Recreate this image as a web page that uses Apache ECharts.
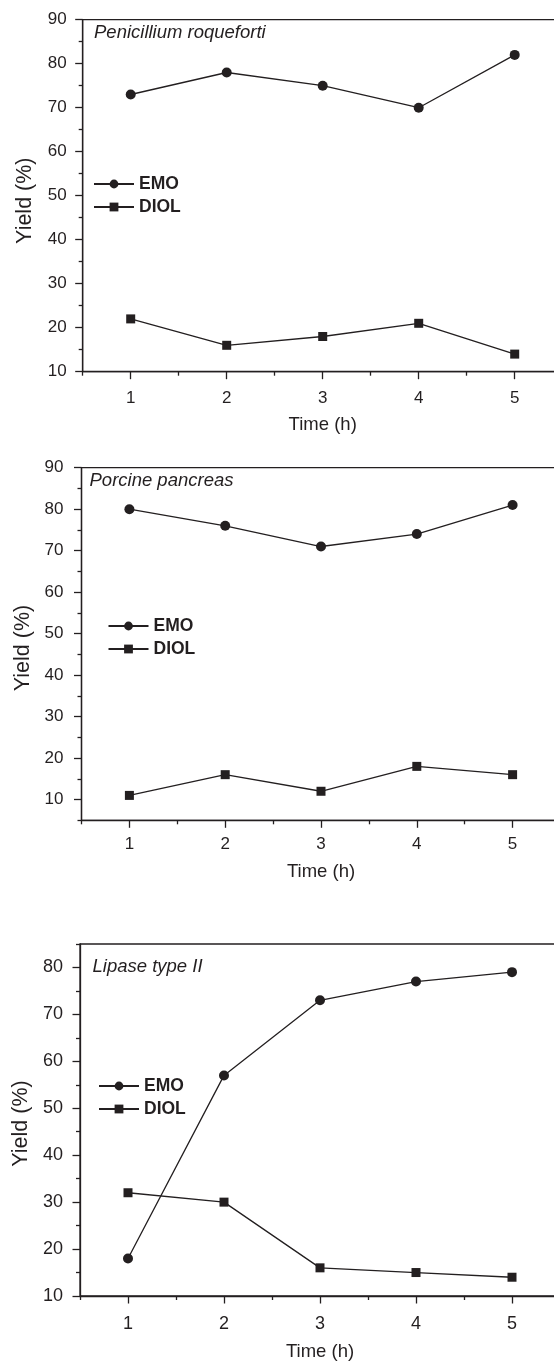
<!DOCTYPE html>
<html>
<head>
<meta charset="utf-8">
<script src="https://cdn.jsdelivr.net/npm/echarts@6/dist/echarts.min.js"></script>
<style>
html,body{margin:0;padding:0;background:#fff;overflow:hidden;width:554px;height:1362px;}
#chart{width:600px;height:1362px;}
</style>
</head>
<body>
<div id="chart"></div>
<script>
// ---- data ----
const times = [1, 2, 3, 4, 5];
const panelTitles = ['Penicillium roqueforti', 'Porcine pancreas', 'Lipase type II'];
const seriesNames = ['EMO', 'DIOL'];
const emoPenicillium = [73, 78, 75, 70, 82];
const diolPenicillium = [22, 16, 18, 21, 14];
const emoPorcine = [80, 76, 71, 74, 81];
const diolPorcine = [11, 16, 12, 18, 16];
const emoLipase = [18, 57, 73, 77, 79];
const diolLipase = [32, 30, 16, 15, 14];
const xMajorTicks = [1, 2, 3, 4, 5];
const xMinorTicks = [0.5, 1.5, 2.5, 3.5, 4.5, 5.5];
const yMajorTicks1 = [10, 20, 30, 40, 50, 60, 70, 80, 90];
const yMinorTicks1 = [15, 25, 35, 45, 55, 65, 75, 85];
const yMajorTicks2 = [10, 20, 30, 40, 50, 60, 70, 80, 90];
const yMinorTicks2 = [5, 15, 25, 35, 45, 55, 65, 75, 85];
const yMajorTicks3 = [10, 20, 30, 40, 50, 60, 70, 80];
const yMinorTicks3 = [15, 25, 35, 45, 55, 65, 75, 85];
const yRanges = [[10, 90], [5, 90], [10, 85]];
const xRange = [0.5, 5.5];
const xName = 'Time (h)';
const yName = 'Yield (%)';

// ---- layout / style ----
const INK = '#231f20';
const FONT = 'Liberation Sans, Arial, sans-serif';
const layout = [
  {left: 82.7, top: 19.7, width: 480, height: 352, tick: 17, xLabMargin: 18, xNameGap: 44, yNameGap: 47, yLabMargin: 16,
   yNameShift: 10, titleLeft: 94, titleTop: 23, legendLeft: 93, legendTop: 175},
  {left: 81.5, top: 467.7, width: 479, height: 352.6, tick: 17, xLabMargin: 16, xNameGap: 42, yNameGap: 46, yLabMargin: 18,
   yNameShift: 8, titleLeft: 89.5, titleTop: 471, legendLeft: 107.5, legendTop: 617},
  {left: 80, top: 944, width: 480, height: 352.3, tick: 18, xLabMargin: 19, xNameGap: 46, yNameGap: 46, yLabMargin: 17,
   yNameShift: 7, titleLeft: 92.5, titleTop: 957.5, legendLeft: 98, legendTop: 1077}
];
const panelData = [
  [emoPenicillium, diolPenicillium],
  [emoPorcine, diolPorcine],
  [emoLipase, diolLipase]
];
const yTicks = [[yMajorTicks1, yMinorTicks1], [yMajorTicks2, yMinorTicks2], [yMajorTicks3, yMinorTicks3]];

const grids = [], xAxes = [], yAxes = [], series = [], titles = [], legends = [];
layout.forEach((L, p) => {
  grids.push({left: L.left, top: L.top, width: L.width, height: L.height, containLabel: false,
    show: true, borderColor: INK, borderWidth: 1.3, backgroundColor: 'transparent'});
  const [ymin, ymax] = yRanges[p];
  // main x axis
  xAxes.push({type: 'value', gridIndex: p, min: xRange[0], max: xRange[1], position: 'bottom',
    name: xName, nameLocation: 'middle', nameGap: L.xNameGap,
    nameTextStyle: {color: INK, fontSize: 18.5, fontFamily: FONT},
    axisLine: {show: true, onZero: false, lineStyle: {color: INK, width: 1.3}},
    axisTick: {show: true, length: 7.5, lineStyle: {color: INK, width: 1.3}, customValues: xMajorTicks},
    axisLabel: {show: true, color: INK, fontSize: L.tick, fontFamily: FONT, margin: L.xLabMargin,
      customValues: xMajorTicks, formatter: v => String(v)},
    splitLine: {show: false}});
  // minor x ticks
  xAxes.push({type: 'value', gridIndex: p, min: xRange[0], max: xRange[1], position: 'bottom',
    axisLine: {show: false, onZero: false},
    axisTick: {show: true, length: 4, lineStyle: {color: INK, width: 1.3}, customValues: xMinorTicks},
    axisLabel: {show: false}, splitLine: {show: false}});
  // main y axis
  yAxes.push({type: 'value', gridIndex: p, min: ymin, max: ymax, position: 'left',
    name: yName, nameLocation: 'middle', nameGap: L.yNameGap, nameRotate: 90,
    nameTextStyle: {color: INK, fontSize: 21.5, fontFamily: FONT, padding: [0, L.yNameShift, 0, 0]},
    axisLine: {show: true, onZero: false, lineStyle: {color: INK, width: 1.3}},
    axisTick: {show: true, length: 7.5, lineStyle: {color: INK, width: 1.3}, customValues: yTicks[p][0]},
    axisLabel: {show: true, color: INK, fontSize: L.tick, fontFamily: FONT, margin: L.yLabMargin,
      customValues: yTicks[p][0], formatter: v => String(v)},
    splitLine: {show: false}});
  // minor y ticks
  yAxes.push({type: 'value', gridIndex: p, min: ymin, max: ymax, position: 'left',
    axisLine: {show: false, onZero: false},
    axisTick: {show: true, length: 4, lineStyle: {color: INK, width: 1.3}, customValues: yTicks[p][1]},
    axisLabel: {show: false}, splitLine: {show: false}});

  const xi = p * 2, yi = p * 2;
  panelData[p].forEach((vals, s) => {
    series.push({
      type: 'line', name: seriesNames[s], xAxisIndex: xi, yAxisIndex: yi,
      data: times.map((t, i) => [t, vals[i]]),
      symbol: s === 0 ? 'circle' : 'rect', symbolSize: s === 0 ? 10 : 9,
      showAllSymbol: true, animation: false, silent: true,
      lineStyle: {color: INK, width: 1.3},
      itemStyle: {color: INK, borderWidth: 0},
      emphasis: {disabled: true}
    });
  });

  titles.push({text: panelTitles[p], left: L.titleLeft, top: L.titleTop, padding: 0,
    textStyle: {color: INK, fontSize: 18.5, fontStyle: 'italic', fontWeight: 'normal', fontFamily: FONT}});

  legends.push({data: seriesNames, orient: 'vertical', left: L.legendLeft, top: L.legendTop, padding: 0,
    itemWidth: 40, itemHeight: 11, itemGap: 5, selectedMode: false,
    textStyle: {color: INK, fontSize: 17.5, fontWeight: 'bold', fontFamily: FONT}});
});

const chart = echarts.init(document.getElementById('chart'), null, {renderer: 'canvas', width: 600, height: 1362});
chart.setOption({
  animation: false,
  backgroundColor: '#fff',
  title: titles,
  legend: legends,
  grid: grids,
  xAxis: xAxes,
  yAxis: yAxes,
  series: series
});
</script>
</body>
</html>
